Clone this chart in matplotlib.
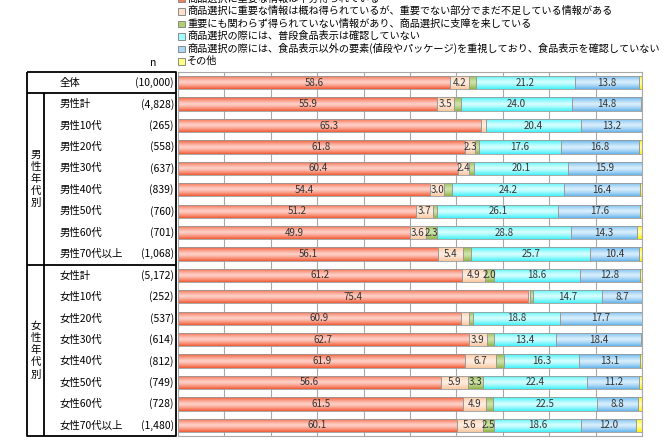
# -*- coding: utf-8 -*-
# 食品表示の情報量についての意識（全体・性年代別）

import numpy as np
import matplotlib.pyplot as plt
from matplotlib.colors import to_rgb
from matplotlib.patches import Rectangle

plt.rcParams['font.family'] = ['Noto Sans CJK JP', 'DejaVu Sans']

# %% data
legend_labels = [
    '商品選択に重要な情報は十分得られている',
    '商品選択に重要な情報は概ね得られているが、重要でない部分でまだ不足している情報がある',
    '重要にも関わらず得られていない情報があり、商品選択に支障を来している',
    '商品選択の際には、普段食品表示は確認していない',
    '商品選択の際には、食品表示以外の要素(値段やパッケージ)を重視しており、食品表示を確認していない',
    'その他',
]

row_labels = ['全体',
              '男性計', '男性10代', '男性20代', '男性30代', '男性40代', '男性50代', '男性60代', '男性70代以上',
              '女性計', '女性10代', '女性20代', '女性30代', '女性40代', '女性50代', '女性60代', '女性70代以上']
n_labels = ['(10,000)',
            '(4,828)', '(265)', '(558)', '(637)', '(839)', '(760)', '(701)', '(1,068)',
            '(5,172)', '(252)', '(537)', '(614)', '(812)', '(749)', '(728)', '(1,480)']

v_enough  = [58.6, 55.9, 65.3, 61.8, 60.4, 54.4, 51.2, 49.9, 56.1, 61.2, 75.4, 60.9, 62.7, 61.9, 56.6, 61.5, 60.1]
v_mostly  = [4.2, 3.5, 1.0, 2.3, 2.4, 3.0, 3.7, 3.6, 5.4, 4.9, 0.5, 1.8, 3.9, 6.7, 5.9, 4.9, 5.6]
v_lacking = [1.5, 1.5, 0.1, 0.8, 1.1, 1.6, 1.0, 2.3, 1.7, 2.0, 0.7, 0.8, 1.4, 1.6, 3.3, 1.5, 2.5]
v_nocheck = [21.2, 24.0, 20.4, 17.6, 20.1, 24.2, 26.1, 28.8, 25.7, 18.6, 14.7, 18.8, 13.4, 16.3, 22.4, 22.5, 18.6]
v_other_f = [13.8, 14.8, 13.2, 16.8, 15.9, 16.4, 17.6, 14.3, 10.4, 12.8, 8.7, 17.7, 18.4, 13.1, 11.2, 8.8, 12.0]
v_etc     = [0.7, 0.3, 0.0, 0.7, 0.1, 0.4, 0.4, 1.1, 0.7, 0.5, 0.0, 0.0, 0.2, 0.4, 0.6, 0.8, 1.2]

series = [v_enough, v_mostly, v_lacking, v_nocheck, v_other_f, v_etc]

# (edge colour, centre colour) for the gradient look
colors = [('#F05A34', '#FFD0C8'),
          ('#F8C8A0', '#FFEDE0'),
          ('#8DB448', '#CFE3A8'),
          ('#40F0F8', '#D4FFFF'),
          ('#66B4EC', '#D8EEFC'),
          ('#FFF000', '#FFFFB0')]
legend_sq = ['#F0805C', '#FDE0CC', '#B0D070', '#A0FFFF', '#A8D8F8', '#FFFF80']

# %% figure
W, H = 672, 446
fig = plt.figure(figsize=(W / 100, H / 100), dpi=100)

top_px, bot_px = 72, 436
left_px, right_px = 178, 642
ax = fig.add_axes([left_px / W, 1 - bot_px / H, (right_px - left_px) / W, (bot_px - top_px) / H])

nrow = len(row_labels)
y = np.arange(nrow)
bar_h = 0.62


def grad_fill(ax, patch, c_edge, c_mid):
    x0, y0 = patch.get_x(), patch.get_y()
    w, h = patch.get_width(), patch.get_height()
    if w <= 0:
        return
    t = np.linspace(0, 1, 40)
    f = 1 - np.abs(2 * t - 1) ** 1.3
    cols = (np.array(to_rgb(c_edge))[None, :] * (1 - f[:, None])
            + np.array(to_rgb(c_mid))[None, :] * f[:, None])
    im = ax.imshow(cols[:, None, :], extent=(x0, x0 + w, y0 + h, y0),
                   aspect='auto', zorder=2, interpolation='bilinear')
    im.set_clip_path(patch)


left = np.zeros(nrow)
for vals, (ce, cm) in zip(series, colors):
    vals = np.array(vals)
    bars = ax.barh(y, vals, left=left, height=bar_h, color=ce, edgecolor='none', zorder=2)
    for p in bars.patches:
        grad_fill(ax, p, ce, cm)
    ax.barh(y, vals, left=left, height=bar_h, fill=False, edgecolor='#9A9A9A', lw=0.6, zorder=3)
    for yi, v, l in zip(y, vals, left):
        if v >= 2.0:
            ax.text(l + v / 2, yi, f'{v:.1f}', ha='center', va='center',
                    fontsize=7, color='#333333', zorder=4)
    left += vals

ax.set_xlim(0, 100)
ax.set_ylim(nrow - 0.5, -0.5)
for xv in range(10, 101, 10):
    ax.axvline(xv, color='#A8A8A8', lw=0.8, zorder=1)
ax.set_xticks([])
ax.set_yticks([])
for s in ax.spines.values():
    s.set_color('#A8A8A8')
    s.set_linewidth(0.8)

# %% left table
tl = 27
axt = fig.add_axes([tl / W, 1 - bot_px / H, (left_px - tl) / W, (bot_px - top_px) / H], sharey=ax)
axt.set_xlim(0, left_px - tl)
axt.set_ylim(nrow - 0.5, -0.5)
axt.axis('off')
tw = 176 - tl
lk = dict(color='black', lw=1.3, solid_capstyle='butt')
axt.plot([0, tw, tw, 0, 0], [-0.5, -0.5, nrow - 0.5, nrow - 0.5, -0.5], clip_on=False, **lk)
axt.plot([0, tw], [0.5, 0.5], **lk)
axt.plot([0, tw], [8.5, 8.5], **lk)
axt.plot([17, 17], [0.5, nrow - 0.5], **lk)

for yi, lab, n in zip(y, row_labels, n_labels):
    axt.text(60 - tl, yi, lab, ha='left', va='center', fontsize=7.5)
    axt.text(174 - tl, yi, n, ha='right', va='center', fontsize=7.5)

axt.text(8.5, 4.5, '男\n性\n年\n代\n別', ha='center', va='center', fontsize=7.5, linespacing=1.25)
axt.text(8.5, 12.5, '女\n性\n年\n代\n別', ha='center', va='center', fontsize=7.5, linespacing=1.25)
axt.text(153 - tl, -0.92, 'n', ha='center', va='center', fontsize=7.5, clip_on=False)

# %% legend at top (first line is cut by the top edge, as in the source image)
leg_y = [-1.5, 11, 23.5, 36, 48.5, 61]
for yy, lab, c in zip(leg_y, legend_labels, legend_sq):
    fig.add_artist(Rectangle((178 / W, 1 - (yy + 3.5) / H), 6.5 / W, 6.5 / H,
                             transform=fig.transFigure, facecolor=c, edgecolor='#8A8A8A', lw=0.7))
    fig.text(187 / W, 1 - yy / H, lab, ha='left', va='center', fontsize=7.3)

fig.savefig('out.png', dpi=100)
